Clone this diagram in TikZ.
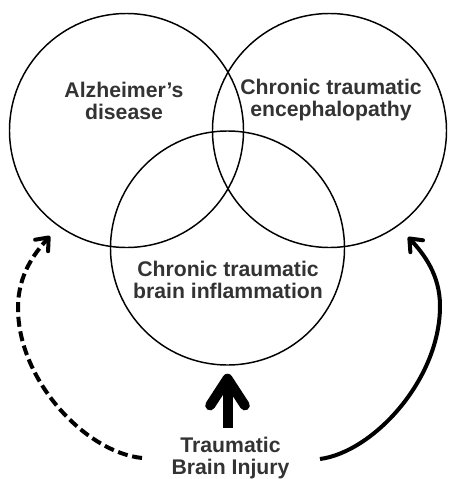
\documentclass[tikz,border=0pt]{standalone}
\usepackage{fontspec}
\setmainfont{Liberation Sans}
\usetikzlibrary{arrows.meta}
\definecolor{txt}{HTML}{333333}
\begin{document}
\begin{tikzpicture}[x=0.75pt,y=-0.75pt,
  venn/.style={draw=black,line width=1.1pt,circle,minimum size=175.5pt,inner sep=0pt},
  lbl/.style={inner sep=0pt,align=center,text=txt,font=\fontsize{15.9}{16.5}\selectfont\bfseries},
  thinarrow/.style={line width=3pt,-{Straight Barb[length=8pt,width=13pt,round]}},
  dasharrow/.style={thinarrow,dash pattern=on 7.5pt off 3.5pt},
  bigarrow/.style={line width=7.5pt,-{Straight Barb[length=20pt,width=26pt,round]}}]
\useasboundingbox (0,0) rectangle (449,479);
\node[venn] (AD) at (126.5,130.5) {};
\node[venn] (CTE) at (329.5,130.5) {};
\node[venn] (CTBI) at (227.5,248) {};
\node[lbl] (tAD) at (124,100.5) {Alzheimer’s\\disease};
\node[lbl] (tCTE) at (331,100.5) {Chronic traumatic\\encephalopathy};
\node[lbl] (tCTBI) at (228,280) {Chronic traumatic\\brain inflammation};
\node[lbl] (tTBI) at (230.5,458) {Traumatic\\Brain Injury};
\coordinate (ls) at (142,458);
\coordinate (lm) at (18,308);
\coordinate (le) at (50,236);
\coordinate (rs) at (320,459);
\coordinate (rm) at (440,306);
\coordinate (re) at (408,237);
\draw[dasharrow] (ls) .. controls (85,452) and (18,380) .. (lm) .. controls (18,275) and (34,254) .. (le);
\draw[thinarrow] (rs) .. controls (373,452) and (440,380) .. (rm) .. controls (440,275) and (424,254) .. (re);
\draw[bigarrow,shorten <=6.5pt,shorten >=6pt] (tTBI.north -| CTBI.south) -- (CTBI.south);
\end{tikzpicture}
\end{document}
